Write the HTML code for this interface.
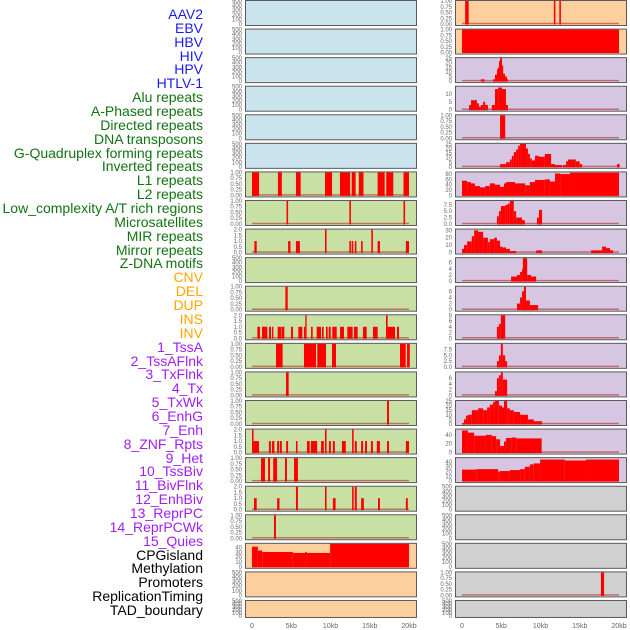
<!DOCTYPE html>
<html><head><meta charset="utf-8"><style>
html,body{margin:0;padding:0;background:#fff;}
#wrap{position:relative;width:630px;height:630px;overflow:hidden;font-family:"Liberation Sans",sans-serif;}
.lbl{position:absolute;right:427px;font-size:14px;line-height:14px;white-space:nowrap;text-align:right;}
</style></head><body>
<div id="wrap">
<svg id="svg" width="630" height="630" style="position:absolute;left:0;top:0"></svg>
</div>
<script>
// ---- labels ----
const labelNames = ["AAV2","EBV","HBV","HIV","HPV","HTLV-1","Alu repeats","A-Phased repeats","Directed repeats","DNA transposons","G-Quadruplex forming repeats","Inverted repeats","L1 repeats","L2 repeats","Low_complexity A/T rich regions","Microsatellites","MIR repeats","Mirror repeats","Z-DNA motifs","CNV","DEL","DUP","INS","INV","1_TssA","2_TssAFlnk","3_TxFlnk","4_Tx","5_TxWk","6_EnhG","7_Enh","8_ZNF_Rpts","9_Het","10_TssBiv","11_BivFlnk","12_EnhBiv","13_ReprPC","14_ReprPCWk","15_Quies","CPGisland","Methylation","Promoters","ReplicationTiming","TAD_boundary"];
const labelGroups = [6,13,5,15,5];
const groupColors = ["#1c1cf0","#137313","#ffa500","#a020f0","#000000"];

// ---- x axis ----
const xTickValues = [0,5,10,15,20];
const xTickLabels = ["0","5kb","10kb","15kb","20kb"];

// ---- left column segments [startKb,endKb,value] ----
const L6 = [[0,0.9,1],[3.3,3.8,1],[5.6,6.2,1],[9.3,10.2,1],[11.2,12.5,1],[12.7,13.2,1],[13.6,14.2,1],[16.0,16.9,1],[17.1,18.0,1],[19.3,20.0,1]];
const L7 = [[4.4,4.6,1],[12.4,12.6,1],[19.3,19.5,1]];
const L8 = [[0.3,0.6,1],[4.6,4.9,1],[5.6,6.1,1],[9.3,9.5,2],[12.4,12.6,1],[12.7,12.9,1],[13.1,13.3,1],[13.9,14.1,1],[15.2,15.4,2],[16.0,16.3,1],[19.6,20,1]];
const L10 = [[4.25,4.55,1]];
const L11 = [[0.68,1.02,1],[1.27,1.95,1],[2.17,2.42,1],[2.55,2.72,1],[3.27,3.69,1],[3.74,4.12,1],[4.97,5.22,1],[5.9,6.41,1],[6.62,6.79,1],[6.79,6.96,2],[7.52,7.73,1],[8.24,8.79,1],[8.92,9.13,1],[9.43,9.64,1],[9.77,10.02,1],[10.23,10.79,1],[11.21,11.72,1],[12.14,12.82,1],[12.99,13.46,1],[14.14,14.61,1],[15.41,16.01,1],[17.07,17.28,2],[17.28,18.22,1],[18.47,18.73,1]];
const L12 = [[3.06,3.9,1],[6.62,8.15,1],[8.32,9.43,1],[10.19,10.7,1],[18.85,19.58,1],[19.75,20.1,1]];
const L13 = [[4.33,4.67,1]];
const L14 = [[17.2,17.45,1]];
const L15 = [[0,0.2,2],[0.2,0.9,1],[2.15,2.4,1],[2.55,2.85,1],[3.2,3.45,1],[3.55,3.8,1],[4.35,4.6,1],[5.6,5.8,1],[7.0,7.35,1],[7.5,8.3,1],[8.8,9.15,1],[9.3,9.5,2],[9.8,10.05,1],[10.3,10.55,1],[11.45,11.95,1],[12.75,12.95,2],[13.1,13.35,1],[13.9,14.15,1],[14.4,14.65,1],[15.15,15.4,1],[15.9,16.3,1],[17.2,17.45,1],[19.6,20,1]];
const L16 = [[1.15,1.65,1],[2.05,2.3,1],[2.7,3.2,1],[4.2,4.45,1],[5.35,5.85,1]];
const L17 = [[0.25,0.6,1],[3.2,3.5,1],[5.6,5.85,2],[9.3,9.5,2],[10.3,10.65,1],[12.75,12.95,2],[13.1,13.35,2],[13.9,14.25,1],[16.05,16.3,1],[19.6,19.85,1]];
const L18 = [[2.8,3.05,1]];
const L19 = [[0,0.75,42],[0.75,1.3,34],[1.3,5.2,31],[5.2,6.75,29],[6.75,6.95,31],[6.95,9.95,29],[9.95,20,48]];

// ---- right column segments ----
const R0 = [[0.4,0.85,1],[11.7,11.9,1],[12.4,12.6,1]];
const R1 = [[0,20,1]];
const R2 = [[2.4,2.85,2],[3.95,4.2,2],[4.2,4.46,7],[4.46,4.59,13],[4.59,4.71,15],[4.71,4.84,22],[4.84,5.1,25],[5.1,5.22,17],[5.22,5.48,8],[5.48,5.73,5],[5.73,5.86,2]];
const R3 = [[0.9,1.15,3],[1.15,1.9,6],[1.9,2.15,4],[2.15,2.4,2],[2.4,2.7,3],[2.7,2.95,5],[2.95,3.3,3],[3.8,4.2,3],[4.2,4.6,13],[4.6,5.1,14],[5.1,5.6,13],[5.6,5.85,3]];
const R4 = [[4.85,5.5,1]];
const R5 = [[4.85,5.6,3],[5.6,6.1,5],[6.1,6.35,8],[6.35,6.6,12],[6.6,6.9,16],[6.9,7.15,19],[7.15,7.4,23],[7.4,8.15,25],[8.15,8.4,20],[8.4,8.65,14],[8.65,8.9,9],[8.9,9.3,7],[9.3,9.8,12],[9.8,10.55,11],[10.55,11.35,14],[11.35,11.85,3],[11.85,12.75,2],[12.85,13.25,2],[13.25,13.5,6],[13.5,14.5,8],[14.5,15.0,6],[15.0,15.3,3],[19.75,20.1,3]];
const R6 = [[0,0.65,55],[0.65,1.15,50],[1.15,1.65,45],[1.65,2.3,35],[2.3,2.95,30],[2.95,3.55,35],[3.55,4.2,45],[4.2,4.85,40],[4.85,5.35,32],[5.35,5.6,45],[5.6,6.75,50],[6.75,8.05,45],[8.05,8.65,38],[8.65,9.3,50],[9.3,10.55,58],[10.55,11.2,60],[11.2,11.85,52],[11.85,12.5,82],[12.5,13.75,80],[13.75,20,85]];
const R7 = [[4.45,4.7,3],[4.7,4.95,5],[4.95,5.5,7],[5.5,5.85,7.5],[5.85,6.1,8],[6.1,6.6,9],[6.6,6.9,5],[6.9,7.65,2.5],[7.65,8.0,1.5],[9.55,9.8,2.5],[9.8,10.2,5.5]];
const R8 = [[0,0.25,5],[0.25,0.65,10],[0.65,1.25,15],[1.25,1.55,22],[1.55,2.05,30],[2.05,2.7,28],[2.7,3.3,20],[3.3,3.55,14],[3.55,4.1,18],[4.1,4.45,20],[4.45,4.85,16],[4.85,5.1,8],[5.1,5.6,7],[5.6,6.1,5],[6.1,6.9,2],[9.45,10.2,3],[16.45,17.85,3],[17.85,18.35,8],[18.35,18.85,6],[18.85,19.25,3]];
const R9 = [[6.25,7.0,1.5],[7.0,7.4,2],[7.4,7.65,3],[7.65,7.75,4],[7.75,8.3,7.5],[8.3,8.8,2],[8.8,9.45,1.5]];
const R10 = [[7.0,7.4,2],[7.4,7.65,4],[7.65,7.9,6],[7.9,8.15,7.5],[8.15,8.65,3],[8.65,9.7,1.5]];
const R11 = [[4.45,4.7,4],[4.7,4.95,5],[4.95,5.5,8]];
const R12 = [[4.45,4.7,2.5],[4.7,4.95,5],[4.95,5.2,10],[5.2,5.5,5],[5.5,5.75,2.5]];
const R13 = [[4.2,4.45,1.5],[4.45,4.7,6],[4.7,4.95,7],[4.95,5.2,8],[5.2,5.75,5.5]];
const R14 = [[0,0.25,1],[0.25,0.5,5],[0.5,0.75,9],[0.75,1.25,10],[1.25,2.05,15],[2.05,2.7,17],[2.7,3.2,15],[3.2,3.55,18],[3.55,3.95,21],[3.95,4.2,24],[4.2,4.7,25],[4.7,5.1,20],[5.1,5.35,18],[5.35,5.75,25],[5.75,6.1,17],[6.1,6.6,15],[6.6,7.4,13],[7.4,8.4,10],[8.4,9.15,5],[9.15,10.2,3]];
const R15 = [[0,0.75,50],[0.75,1.55,45],[1.55,3.05,38],[3.05,3.8,40],[3.8,4.35,37],[4.35,4.85,30],[4.85,5.35,15],[5.35,5.6,25],[5.6,6.35,33],[6.35,6.9,34],[6.9,10.15,32]];
const R16 = [[0,1.8,24],[1.8,4.6,25],[4.6,4.85,20],[4.85,6.1,21],[6.1,7.4,23],[7.4,8.0,25],[8.0,8.65,30],[8.65,9.15,35],[9.15,9.95,37],[9.95,13.1,45],[13.1,15.8,43],[15.8,20,45]];
const R20 = [[17.7,18.1,1]];

// ---- y tick sets ----
const T500 = [0,100,200,300,400,500];
const T1 = [0,0.25,0.5,0.75,1];
const T2 = [0,0.5,1,1.5,2];

const BLUE="#c9e4ec", GREEN="#c9e0a5", ORANGE="#fecf9e", PURPLE="#d6c6e2", GRAY="#d0d0d0";
// panels: [col,row,bg,ymax,ticks,decimals,segments]
const panels = [];
for(let r=0;r<6;r++) panels.push([0,r,BLUE,500,T500,0,null]);
panels.push([0,6,GREEN,1,T1,2,L6],[0,7,GREEN,1,T1,2,L7],[0,8,GREEN,2,T2,1,L8],[0,9,GREEN,500,T500,0,null],
 [0,10,GREEN,1,T1,2,L10],[0,11,GREEN,2,T2,1,L11],[0,12,GREEN,1,T1,2,L12],[0,13,GREEN,1,T1,2,L13],[0,14,GREEN,1,T1,2,L14],
 [0,15,GREEN,2,T2,1,L15],[0,16,GREEN,1,T1,2,L16],[0,17,GREEN,2,T2,1,L17],[0,18,GREEN,1,T1,2,L18],
 [0,19,ORANGE,48,[0,10,20,30,40],0,L19],[0,20,ORANGE,500,T500,0,null],[0,21,ORANGE,500,T500,0,null]);
panels.push([1,0,ORANGE,1,T1,2,R0],[1,1,ORANGE,1,T1,2,R1],
 [1,2,PURPLE,25,[0,5,10,15,20,25],0,R2],[1,3,PURPLE,14.5,[0,5,10],0,R3],[1,4,PURPLE,1,T1,2,R4],
 [1,5,PURPLE,25,[0,5,10,15,20,25],0,R5],[1,6,PURPLE,86,[0,20,40,60,80],0,R6],[1,7,PURPLE,9,[0,2.5,5,7.5],1,R7],
 [1,8,PURPLE,31,[0,10,20,30],0,R8],[1,9,PURPLE,7.5,[0,2,4,6],0,R9],[1,10,PURPLE,7.5,[0,2,4,6],0,R10],
 [1,11,PURPLE,8,[0,2,4,6,8],0,R11],[1,12,PURPLE,10,[0,2.5,5,7.5],1,R12],[1,13,PURPLE,8,[0,2,4,6],0,R13],
 [1,14,PURPLE,25,[0,5,10,15,20,25],0,R14],[1,15,PURPLE,52,[0,20,40],0,R15],[1,16,PURPLE,48,[0,10,20,30,40],0,R16],
 [1,17,GRAY,500,T500,0,null],[1,18,GRAY,500,T500,0,null],[1,19,GRAY,500,T500,0,null],[1,20,GRAY,1,T1,2,R20],[1,21,GRAY,500,T500,0,null]);

const NS="http://www.w3.org/2000/svg";
const svg=document.getElementById('svg');
function mk(tag,attrs,parent){const e=document.createElementNS(NS,tag);for(const k in attrs)e.setAttribute(k,attrs[k]);(parent||svg).appendChild(e);return e;}
const colLeft=[245,455], colData0=[252,462], pxPerKb=7.85;
function xScale(col,kb){return colData0[col]+kb*pxPerKb;}

panels.forEach(p=>{
  const [col,row,bg,ymax,ticks,dec,segs]=p;
  const top=row*28.57, h=(row===21?17:25), left=colLeft[col], w=171;
  const g=mk('g',{});
  
  
  const bottom=top+h-1;
  const yScale=v=>bottom-(v/ymax)*(h-2);
  const bgr=mk('rect',{x:left+0.5,y:top+0.5,width:w,height:h,fill:bg,stroke:'#5a5a5a','stroke-width':1},g);
  
  
  ticks.forEach(t=>{
    const tx=mk('text',{x:left-3,y:yScale(t)+2,'font-size':6,'text-anchor':'end',fill:'#666','font-family':'Liberation Sans, sans-serif'},g);
    tx.textContent=(dec? t.toFixed(dec): String(t));
    
    
  });
  if(segs){
    const base=mk('line',{x1:xScale(col,0),x2:xScale(col,20),y1:bottom-0.5,y2:bottom-0.5,stroke:'#b03030','stroke-width':1.5,opacity:0.6},g);
    
    
    segs.forEach(s=>{
      const x1=xScale(col,s[0]), x2=xScale(col,s[1]), y=Math.max(top+1,yScale(s[2]));
      const b=mk('rect',{x:x1,y:y,width:Math.max(1.2,x2-x1),height:bottom-y+0.5,fill:'#ff0000'},g);
      
      
    });
  }
});
[0,1].forEach(col=>{
  xTickValues.forEach((v,i)=>{
    const t=mk('text',{x:xScale(col,v),y:628,'font-size':7,'text-anchor':'middle',fill:'#666','font-family':'Liberation Sans, sans-serif'});
    t.textContent=xTickLabels[i];
    
    
  });
});
const wrap=document.getElementById('wrap');
let gi=0,cnt=0;
labelNames.forEach((n,i)=>{
  if(cnt>=labelGroups[gi]){gi++;cnt=0;}
  cnt++;
  const d=document.createElement('div');
  d.className='lbl';
  d.style.top=(15+i*13.86-8)+'px';
  d.style.color=groupColors[gi];
  d.textContent=n;
  
  
  wrap.appendChild(d);
});
</script>
</body></html>
